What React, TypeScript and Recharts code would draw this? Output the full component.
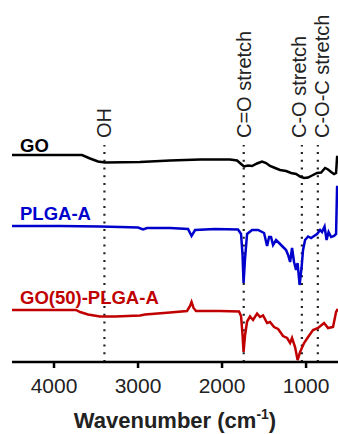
import { LineChart, Line, XAxis, YAxis, ReferenceLine } from "recharts"

// wavenumber (cm-1) and offset signal
const goWave = [4500, 3667, 3571, 3476, 3393, 2976, 2619, 2262, 1905, 1821, 1774, 1738, 1690, 1643, 1583, 1524, 1476, 1429, 1369, 1310, 1238, 1179, 1119, 1071, 1024, 976, 929, 869, 821, 774, 738, 702, 667, 643, 631, 622]
const goSignal = [207, 207, 203.5, 200.5, 199.5, 200, 201.5, 202.5, 202.5, 201.5, 198, 195.5, 196.5, 196, 198.5, 200.5, 199, 196, 194, 192, 191, 189, 188, 185.5, 184, 184.5, 186.5, 189, 189.5, 194, 192.5, 190, 188, 189, 205, 206]

const plgaWave = [4500, 3929, 3452, 3214, 3000, 2940, 2893, 2619, 2405, 2363, 2321, 2083, 1810, 1774, 1756, 1744, 1726, 1702, 1643, 1571, 1500, 1464, 1440, 1417, 1393, 1357, 1321, 1274, 1238, 1214, 1190, 1167, 1143, 1119, 1101, 1077, 1054, 1036, 1012, 976, 940, 905, 869, 833, 810, 780, 756, 732, 702, 667, 643, 631, 622]
const plgaSignal = [136, 136, 135.5, 135, 134.5, 132.5, 134, 134, 133, 126, 132, 133, 132.5, 128, 107, 79, 104, 128, 132, 132, 129, 116, 125, 125, 117, 122, 119, 115, 112, 107, 100, 114, 100, 92, 99, 77, 94, 112, 122, 125.5, 124, 126, 128, 132, 130, 135.5, 122, 130, 125, 126, 128, 175, 176]

const compWave = [4500, 3738, 3690, 3595, 3452, 3274, 2976, 2917, 2619, 2417, 2381, 2363, 2339, 2310, 2024, 1798, 1774, 1756, 1744, 1726, 1702, 1667, 1631, 1583, 1548, 1512, 1464, 1429, 1381, 1333, 1274, 1226, 1190, 1167, 1131, 1101, 1071, 1024, 976, 917, 857, 786, 738, 679, 643, 622]
const compSignal = [52, 52, 50, 47.5, 45.5, 45.5, 46.5, 47.5, 49.5, 51, 56, 60, 54, 51, 51, 50.5, 46, 27, 10, 27, 40.5, 45.5, 42, 48.5, 45, 46.5, 39, 40, 35, 33, 26, 24, 19, 24, 15, 2, 10, 19, 25, 32, 34, 39, 34, 35, 50, 53]

const bandPositions = [3400, 1742, 1050, 860]
const bandNames = ["OH", "C=O stretch", "C-O stretch", "C-O-C stretch"]
const bandShift = [0, 0, -3, 4]

const xTicks = [4000, 3000, 2000, 1000]

const toRows = (w: number[], v: number[]) => w.map((x, i) => ({ w: x, v: v[i] }))

const font = "'Liberation Sans', Arial, sans-serif"

const seriesLabel = (text: string, color: string, lift: number) => (props: any) => {
  if (props.index !== 0) return null
  return (
    <text x={props.x + 8} y={props.y - lift} fill={color} fontSize={18.5} fontWeight="bold" fontFamily={font}>
      {text}
    </text>
  )
}

const bandLabel = (text: string, shift: number) => (props: any) => {
  const vb = props.viewBox || {}
  const x = vb.x + 7 + shift
  const y = vb.y - 7
  return (
    <text x={x} y={y} transform={`rotate(-90 ${x} ${y})`} fontSize={20} fill="#222" fontFamily={font}>
      {text}
    </text>
  )
}

const axisTitle = (props: any) => {
  const vb = props.viewBox || {}
  const cx = vb.x + vb.width / 2
  const y = vb.y + vb.height - 6
  return (
    <text x={cx} y={y} textAnchor="middle" fontSize={22} fontWeight="bold" fill="#222" fontFamily={font}>
      Wavenumber (cm
      <tspan fontSize={14} dy={-9}>-1</tspan>
      <tspan dy={9}>)</tspan>
    </text>
  )
}

export default function App() {
  return (
    <div style={{ position: "absolute", left: 0, top: 0, width: 338, height: 434, background: "#fff" }}>
      <LineChart width={338} height={434} margin={{ top: 145, right: 0, left: 12, bottom: 0 }}>
        <XAxis
          type="number"
          dataKey="w"
          domain={[620, 4500]}
          reversed
          allowDataOverflow
          ticks={xTicks}
          height={72}
          tickSize={6}
          tickMargin={10}
          axisLine={{ stroke: "#000", strokeWidth: 2.5 }}
          tickLine={{ stroke: "#000", strokeWidth: 2.5 }}
          tick={{ fontSize: 21, fill: "#222", fontFamily: font }}
          label={axisTitle}
        />
        <YAxis
          type="number"
          domain={[0, 217]}
          allowDataOverflow
          width={0}
          tick={false}
          tickLine={false}
          axisLine={{ stroke: "#000", strokeWidth: 2.5 }}
        />
        {bandPositions.map((p, i) => (
          <ReferenceLine
            key={bandNames[i]}
            x={p}
            stroke="#222"
            strokeWidth={2.2}
            strokeDasharray="2 5.7"
            label={bandLabel(bandNames[i], bandShift[i])}
          />
        ))}
        <Line
          data={toRows(goWave, goSignal)}
          dataKey="v"
          stroke="#000"
          strokeWidth={2.5}
          dot={false}
          isAnimationActive={false}
          label={seriesLabel("GO", "#000", 3)}
        />
        <Line
          data={toRows(plgaWave, plgaSignal)}
          dataKey="v"
          stroke="#0000cc"
          strokeWidth={2.5}
          dot={false}
          isAnimationActive={false}
          label={seriesLabel("PLGA-A", "#0000cc", 6)}
        />
        <Line
          data={toRows(compWave, compSignal)}
          dataKey="v"
          stroke="#c00000"
          strokeWidth={2.5}
          dot={false}
          isAnimationActive={false}
          label={seriesLabel("GO(50)-PLGA-A", "#c00000", 6)}
        />
      </LineChart>
    </div>
  )
}
